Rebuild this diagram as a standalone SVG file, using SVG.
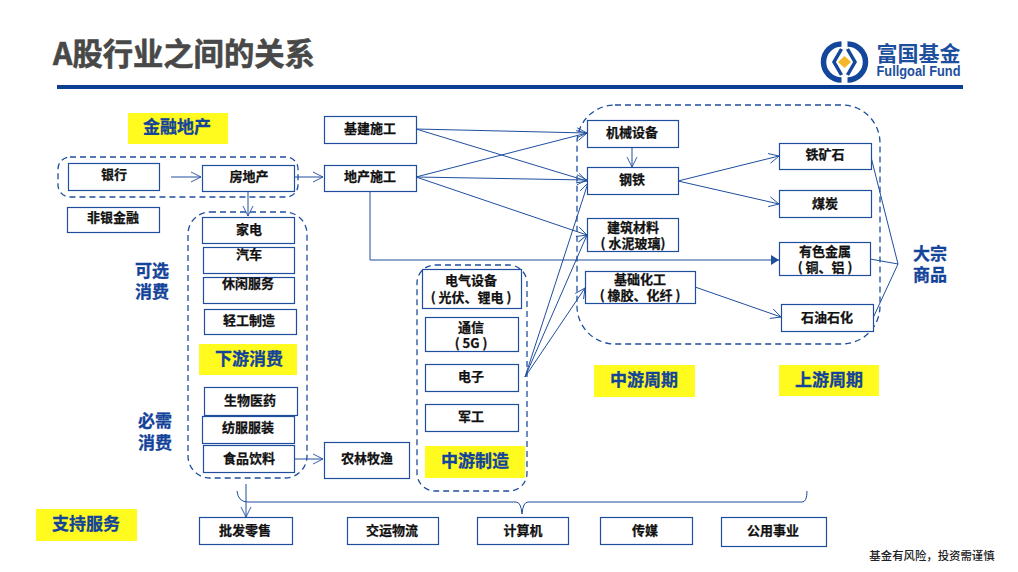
<svg xmlns="http://www.w3.org/2000/svg" width="1018" height="572" viewBox="0 0 1018 572">
  <style>
    text { font-family: "Noto Sans CJK SC", "Noto Sans", sans-serif; font-weight: 700; text-anchor: middle; dominant-baseline: central; }
    .box { fill: #fff; stroke: #1F4E9E; stroke-width: 1.2; transform: translate(0.5px, 0.5px); }
    .t { font-size: 13px; fill: #111; stroke: #111; stroke-width: 0.25; }
    .tag { fill: #FFFB1F; }
    .h { font-size: 17px; fill: #14439A; stroke: #14439A; stroke-width: 0.3; }
    .dash { fill: none; stroke: #1F4E9E; stroke-width: 1.3; stroke-dasharray: 6 4; }
    .ln { fill: none; stroke: #1F4E9E; stroke-width: 1; }
    .arr { marker-end: url(#open); }
  </style>
  <defs>
    <marker id="open" viewBox="0 0 12 12" refX="11" refY="6" markerWidth="12" markerHeight="12" markerUnits="userSpaceOnUse" orient="auto">
      <path d="M1 1 L11 6 L1 11" fill="none" stroke="#1F4E9E" stroke-width="0.9"/>
    </marker>
    <marker id="solid" viewBox="0 0 10 10" refX="9" refY="5" markerWidth="10" markerHeight="10" markerUnits="userSpaceOnUse" orient="auto">
      <path d="M1 0 L9 5 L1 10 Z" fill="#1F4E9E"/>
    </marker>
  </defs>

  <rect width="1018" height="572" fill="#fff"/>

  <!-- header -->
  <text x="53" y="52" style="text-anchor:start;font-size:30.3px;fill:#484848;stroke:#484848;stroke-width:0.6">A股行业之间的关系</text>
  <rect x="57" y="85" width="906" height="4" fill="#0B3F94"/>
  <g id="logo">
    <path d="M841.5 44 A18 18 0 0 0 841.5 80 M847.5 44 A18 18 0 0 1 847.5 80" fill="none" stroke="#14479C" stroke-width="5.5"/>
    <path d="M841.5 49 L834 62 L841.5 75 M847.5 49 L855 62 L847.5 75" fill="none" stroke="#14479C" stroke-width="3.5"/>
    <path d="M844.5 56 L851 62 L844.5 68 L838 62 Z" fill="#F5B72A"/>
    <text x="918.5" y="52" style="font-size:21px;fill:#1D4F9E">富国基金</text>
    <text x="918.5" y="71" textLength="84" lengthAdjust="spacingAndGlyphs" style="font-size:14px;fill:#1D4F9E;font-family:'Liberation Sans',sans-serif">Fullgoal Fund</text>
  </g>

  <!-- dashed groupings -->
  <rect class="dash" x="58" y="157" width="240" height="40" rx="12"/>
  <rect class="dash" x="188" y="212" width="119" height="266" rx="22"/>
  <rect class="dash" x="417" y="265" width="110" height="226" rx="18"/>
  <rect class="dash" x="577" y="105" width="303" height="239" rx="38"/>

  <!-- connectors -->
  <g id="connectors">
    <path class="ln arr" d="M171 177 H201"/>
    <path class="ln arr" d="M294 177 H323"/>
    <path class="ln arr" d="M248 191 V216"/>
    <path class="ln arr" d="M416 129 L587 133"/>
    <path class="ln arr" d="M416 129 L587 181"/>
    <path class="ln arr" d="M416 177 L587 133"/>
    <path class="ln arr" d="M416 177 L587 180"/>
    <path class="ln arr" d="M416 177 L587 235"/>
    <path class="ln" d="M370 191 V260 H779" marker-end="url(#solid)"/>
    <path class="ln arr" d="M632 146 V167"/>
    <path class="ln arr" d="M678 181 L779 156"/>
    <path class="ln arr" d="M678 181 L779 204"/>
    <path class="ln arr" d="M695 287 L781 317"/>
    <path class="ln arr" d="M525 377 L588 183"/>
    <path class="ln arr" d="M525 377 L587 235"/>
    <path class="ln arr" d="M525 377 L585 288"/>
    <path class="ln" d="M871 157 L898 264 M870 259 L898 264 M873 318 L898 264"/>
    <path class="ln arr" d="M294 459 H323"/>
    <path class="ln arr" d="M246 484 V517"/>
    <path class="ln" d="M237 491 Q238 502 248 502 H516 Q521 502 522 514 Q523 502 528 502 H802 Q807 502 807 491"/>
  </g>

  <!-- section tags -->
  <g id="tag-finance"><rect class="tag" x="128" y="113" width="100" height="31"/><text class="h" x="177" y="125.5">金融地产</text></g>
  <g id="tag-downstream"><rect class="tag" x="199" y="344" width="98" height="31"/><text class="h" x="249" y="357.5">下游消费</text></g>
  <g id="tag-midmfg"><rect class="tag" x="425" y="446" width="100" height="32"/><text class="h" x="475" y="459.5">中游制造</text></g>
  <g id="tag-midcycle"><rect class="tag" x="594" y="365" width="101" height="32"/><text class="h" x="644" y="378.5">中游周期</text></g>
  <g id="tag-upcycle"><rect class="tag" x="779" y="365" width="100" height="31"/><text class="h" x="829" y="378.5">上游周期</text></g>
  <g id="tag-support"><rect class="tag" x="36" y="509" width="101" height="32"/><text class="h" x="86" y="522.5">支持服务</text></g>

  <!-- side headings -->
  <g id="label-optional"><text class="h"><tspan x="152" y="268.5">可选</tspan><tspan x="152" y="289.5">消费</tspan></text></g>
  <g id="label-staple"><text class="h"><tspan x="155" y="418.5">必需</tspan><tspan x="155" y="440.5">消费</tspan></text></g>
  <g id="label-commodity"><text class="h"><tspan x="930" y="251.5">大宗</tspan><tspan x="930" y="272.5">商品</tspan></text></g>

  <!-- financial and property -->
  <g id="bank"><rect class="box" x="68" y="163" width="91" height="27"/><text class="t" x="114" y="173.5">银行</text></g>
  <g id="property"><rect class="box" x="202" y="165" width="92" height="26"/><text class="t" x="249" y="175.5">房地产</text></g>
  <g id="nonbank"><rect class="box" x="67" y="207" width="92" height="25"/><text class="t" x="113" y="216.5">非银金融</text></g>
  <g id="infra"><rect class="box" x="324" y="116" width="92" height="27"/><text class="t" x="370" y="127.5">基建施工</text></g>
  <g id="realestate-build"><rect class="box" x="324" y="165" width="92" height="26"/><text class="t" x="370" y="175.5">地产施工</text></g>

  <!-- downstream consumption -->
  <g id="appliance"><rect class="box" x="202" y="217" width="92" height="26"/><text class="t" x="249" y="228.5">家电</text></g>
  <g id="auto"><rect class="box" x="203" y="247" width="91" height="26"/><text class="t" x="249" y="253.5">汽车</text></g>
  <g id="leisure"><rect class="box" x="203" y="277" width="91" height="26"/><text class="t" x="248" y="282.5">休闲服务</text></g>
  <g id="lightind"><rect class="box" x="204" y="309" width="92" height="25"/><text class="t" x="249" y="319.5">轻工制造</text></g>
  <g id="biomed"><rect class="box" x="204" y="387" width="93" height="28"/><text class="t" x="250" y="399.5">生物医药</text></g>
  <g id="apparel"><rect class="box" x="202" y="416" width="92" height="27"/><text class="t" x="248" y="426.5">纺服服装</text></g>
  <g id="food"><rect class="box" x="203" y="445" width="91" height="27"/><text class="t" x="249" y="457.5">食品饮料</text></g>
  <g id="agri"><rect class="box" x="324" y="442" width="85" height="36"/><text class="t" x="367" y="457.5">农林牧渔</text></g>

  <!-- midstream manufacturing -->
  <g id="electric"><rect class="box" x="422" y="269" width="99" height="39"/><text class="t"><tspan x="471" y="278.5">电气设备</tspan><tspan x="471" y="295.5">( 光伏、锂电 )</tspan></text></g>
  <g id="telecom"><rect class="box" x="425" y="317" width="93" height="34"/><text class="t"><tspan x="471" y="325.5">通信</tspan><tspan x="471" y="341.5">( 5G )</tspan></text></g>
  <g id="electronics"><rect class="box" x="425" y="364" width="93" height="27"/><text class="t" x="471" y="375.5">电子</text></g>
  <g id="defense"><rect class="box" x="425" y="404" width="93" height="27"/><text class="t" x="471" y="415.5">军工</text></g>

  <!-- midstream cyclicals -->
  <g id="machinery"><rect class="box" x="587" y="120" width="91" height="27"/><text class="t" x="632" y="131.5">机械设备</text></g>
  <g id="steel"><rect class="box" x="587" y="167" width="91" height="27"/><text class="t" x="632" y="178.5">钢铁</text></g>
  <g id="building"><rect class="box" x="587" y="218" width="91" height="33"/><text class="t"><tspan x="633" y="225.5">建筑材料</tspan><tspan x="633" y="241.5">( 水泥玻璃)</tspan></text></g>
  <g id="chem"><rect class="box" x="585" y="271" width="110" height="32"/><text class="t"><tspan x="640" y="277.5">基础化工</tspan><tspan x="640" y="293.5">( 橡胶、化纤 )</tspan></text></g>

  <!-- upstream cyclicals -->
  <g id="ironore"><rect class="box" x="779" y="143" width="92" height="26"/><text class="t" x="825" y="153.5">铁矿石</text></g>
  <g id="coal"><rect class="box" x="779" y="190" width="92" height="27"/><text class="t" x="825" y="202.5">煤炭</text></g>
  <g id="metals"><rect class="box" x="779" y="242" width="91" height="33"/><text class="t"><tspan x="825" y="249.5">有色金属</tspan><tspan x="825" y="265.5">( 铜、铝 )</tspan></text></g>
  <g id="petro"><rect class="box" x="781" y="304" width="92" height="27"/><text class="t" x="827" y="316.5">石油石化</text></g>

  <!-- support services -->
  <g id="retail"><rect class="box" x="199" y="517" width="93" height="27"/><text class="t" x="245" y="529.5">批发零售</text></g>
  <g id="logistics"><rect class="box" x="347" y="517" width="91" height="27"/><text class="t" x="392" y="529.5">交运物流</text></g>
  <g id="computer"><rect class="box" x="477" y="517" width="91" height="27"/><text class="t" x="523" y="529.5">计算机</text></g>
  <g id="media"><rect class="box" x="600" y="517" width="92" height="27"/><text class="t" x="645" y="529.5">传媒</text></g>
  <g id="utilities"><rect class="box" x="721" y="517" width="105" height="29"/><text class="t" x="773" y="529.5">公用事业</text></g>

  <text x="932" y="554.5" style="font-size:11.4px;font-weight:500;fill:#222">基金有风险，投资需谨慎</text>
</svg>
